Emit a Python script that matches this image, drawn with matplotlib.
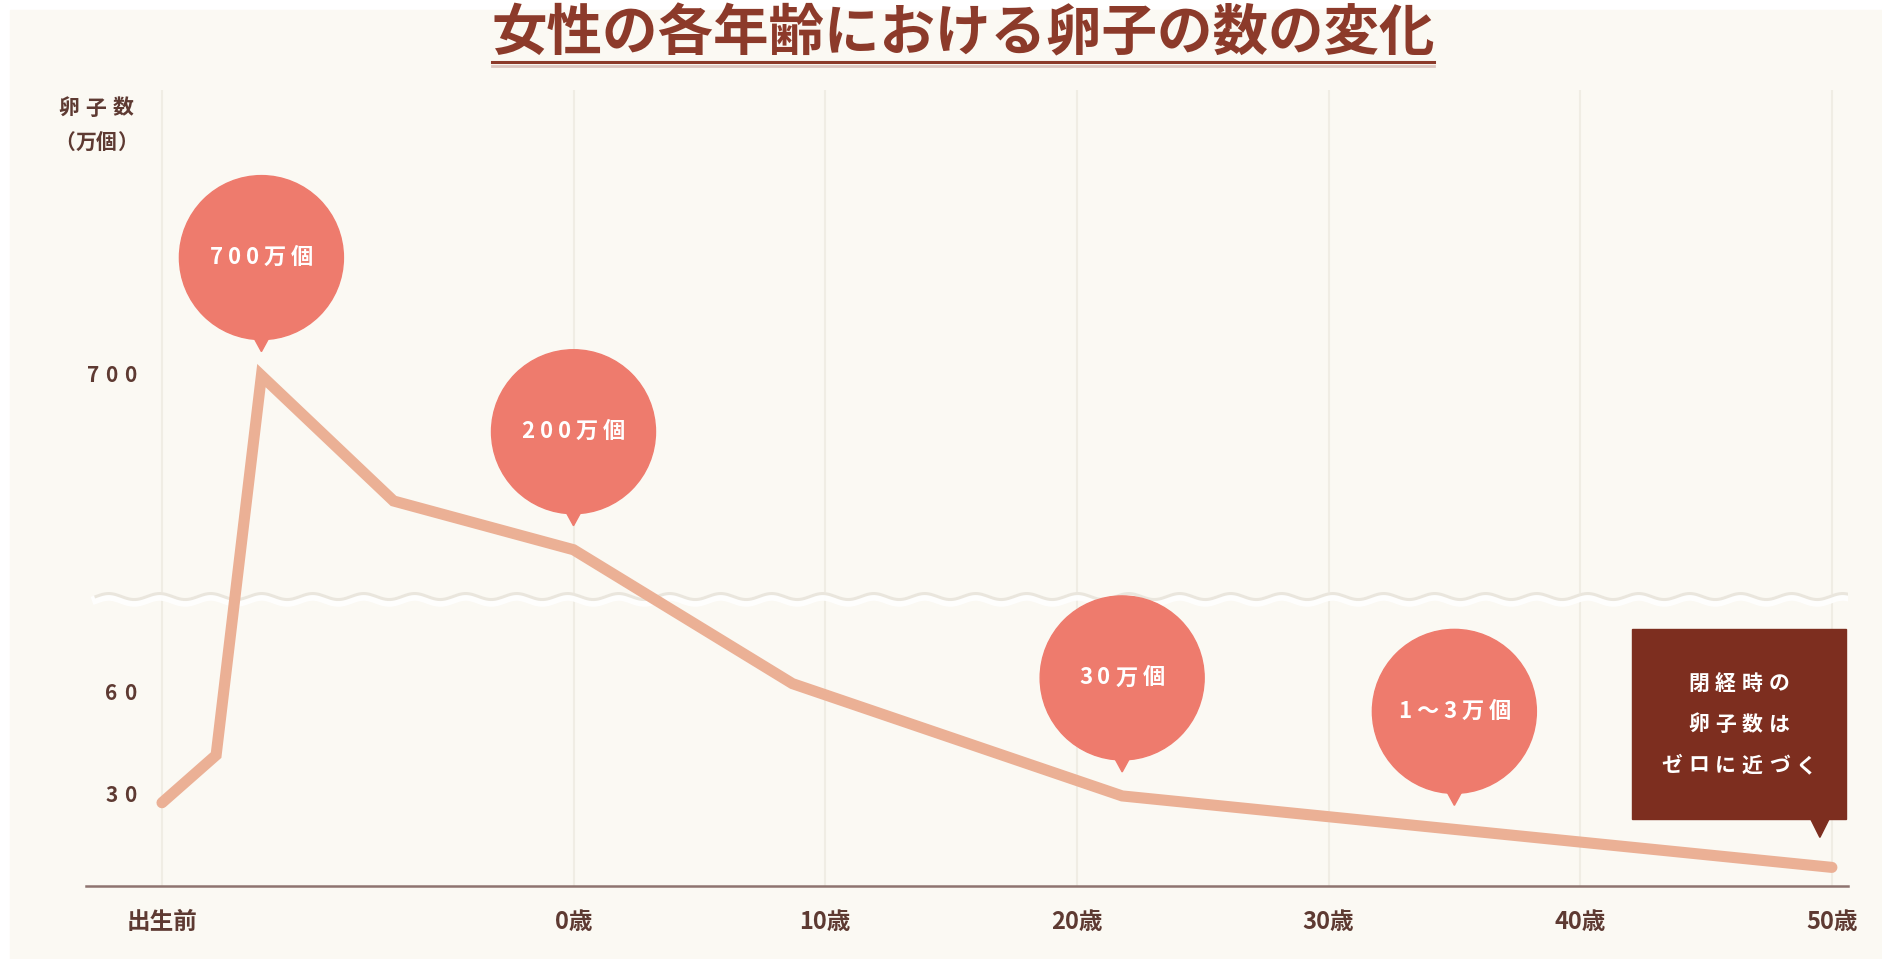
import numpy as np
import matplotlib
matplotlib.use("Agg")
import matplotlib.pyplot as plt
from matplotlib.lines import Line2D
from matplotlib.patches import Circle, Polygon, Rectangle
from matplotlib.ticker import NullLocator
from matplotlib.transforms import IdentityTransform, blended_transform_factory

plt.rcParams['font.family'] = ['Noto Sans CJK JP', 'DejaVu Sans']

# ---- data -------------------------------------------------------------
# x position in years (the prenatal period sits left of 0歳)
ages = [-16.35, -14.2, -12.4, -7.15, 0, 8.7, 21.8, 50]
# number of oocytes (万個)
eggs = [28, 42, 700, 340, 200, 63, 30, 9]

tick_pos = [-16.35, 0, 10, 20, 30, 40, 50]
tick_labels = ['出生前', '0歳', '10歳', '20歳', '30歳', '40歳', '50歳']
ytick_vals = [30, 60, 700]
ytick_labels = ['30', '60', '700']

callout_x = [-12.4, 0, 21.8, 35]
callout_text = ['700万個', '200万個', '30万個', '1～3万個']
note_lines = ['閉経時の', '卵子数は', 'ゼロに近づく']

title = '女性の各年齢における卵子の数の変化'

# ---- colours ----------------------------------------------------------
BG = '#FBF9F3'
GRID = '#F0EDE4'
LINE = '#EBB095'
BALLOON = '#EE7B6D'
NOTE = '#7D2E1F'
TXT = '#5E3A32'
TITLE_C = '#8C3A2A'

# ---- broken y-axis scale ---------------------------------------------
LOW_K = 85 / 30      # lower band (0 .. BREAK_V)
HIGH_K = 0.29        # upper band
BREAK_V = 88.6


def fwd(v):
    v = np.asarray(v, dtype=float)
    return np.where(v <= BREAK_V, v * LOW_K, 290 + (v - 200) * HIGH_K)


def inv(u):
    u = np.asarray(u, dtype=float)
    lo = u / LOW_K
    hi = np.maximum(200 + (u - 290) / HIGH_K, BREAK_V)
    return np.where(u <= BREAK_V * LOW_K, lo, hi)


W, H = 1882, 959
fig = plt.figure(figsize=(W / 100, H / 100), dpi=100, facecolor='white')
renderer = fig.canvas.get_renderer()
fig.add_artist(Rectangle((10 / W, 0), 1 - 10 / W, (H - 10) / H,
                         transform=fig.transFigure, color=BG, zorder=-10))

ax = fig.add_axes([86 / W, (H - 886) / H, (1848 - 86) / W, (886 - 90) / H])
ax.set_facecolor('none')
ax.set_yscale('function', functions=(fwd, inv))
ax.set_xlim(-19.37, 50.64)
ax.set_ylim(3.53, 1520)
ax.set_autoscale_on(False)


def tracked_text(x, y, s, track, ha='center', **kw):
    """Write s at pixel position (x, y) with extra spacing between glyphs."""
    parts = [ax.text(0, 0, ch, transform=IdentityTransform(), ha='left',
                     va='center', **kw) for ch in s]
    widths = [p.get_window_extent(renderer).width for p in parts]
    total = sum(widths) + track * (len(s) - 1)
    x0 = {'center': x - total / 2, 'right': x - total, 'left': x}[ha]
    for p, w in zip(parts, widths):
        p.set_position((x0, y))
        x0 += w + track
    return parts


for s in ['top', 'left', 'right']:
    ax.spines[s].set_visible(False)
ax.spines['bottom'].set_color('#8E7470')
ax.spines['bottom'].set_linewidth(1.8)

ax.set_xticks(tick_pos, tick_labels)
ax.tick_params(axis='x', length=0, pad=17, labelsize=17, labelcolor=TXT)
for lab in ax.get_xticklabels():
    lab.set_fontweight('bold')
ax.yaxis.set_major_locator(NullLocator())
ax.yaxis.set_minor_locator(NullLocator())

# vertical guides
for xp in tick_pos:
    ax.axvline(xp, color=GRID, lw=1.5, zorder=0)

# y tick labels sit inside the plotting area
for v, s in zip(ytick_vals, ytick_labels):
    _, yy = ax.transData.transform((0, v))
    tracked_text(136, yy, s, 6, ha='right', fontsize=15,
                 fontweight='bold', color=TXT, clip_on=False)

tracked_text(96, H - 108, '卵子数', 6, fontsize=15, fontweight='bold',
             color=TXT, clip_on=False)
tracked_text(96, H - 142, '（万個）', 0, fontsize=15, fontweight='bold',
             color=TXT, clip_on=False)

# wavy break marker
yb = ax.transData.transform((0, BREAK_V))[1]
wx = np.linspace(96, 1848, 800)
wy = yb + 3 * np.sin(2 * np.pi * (wx - 96) / 51)
ax.add_line(Line2D(wx, wy - 3, transform=IdentityTransform(),
                   color='white', lw=6, alpha=0.9, zorder=1))
ax.add_line(Line2D(wx, wy, transform=IdentityTransform(),
                   color='#EAE6DD', lw=2.2, zorder=1.1))

# main curve
ax.plot(ages, eggs, color=LINE, lw=8, solid_joinstyle='miter',
        solid_capstyle='round', zorder=3, clip_on=False)

# round callouts
R = 82
for cx, txt in zip(callout_x, callout_text):
    cy = float(np.interp(cx, ages, eggs))
    px, py = ax.transData.transform((cx, cy))
    c = (px, py + 118)
    ax.add_patch(Circle(c, R, transform=IdentityTransform(),
                        color=BALLOON, zorder=4, clip_on=False))
    ax.add_patch(Polygon([(px - 12, py + 46), (px + 12, py + 46), (px, py + 24)],
                         transform=IdentityTransform(), color=BALLOON,
                         zorder=4, clip_on=False))
    tracked_text(c[0], c[1], txt, 5, fontsize=16, fontweight='bold',
                 color='white', zorder=5, clip_on=False)

# closing note box at the final point
px, py = ax.transData.transform((ages[-1], eggs[-1]))
bx0, bx1 = px + 14 - 214, px + 14
by0, by1 = py + 48, py + 238
ax.add_patch(Rectangle((bx0, by0), bx1 - bx0, by1 - by0,
                       transform=IdentityTransform(), color=NOTE,
                       zorder=4, clip_on=False))
ax.add_patch(Polygon([(px - 22, by0 + 2), (px - 2, by0 + 2), (px - 12, py + 30)],
                     transform=IdentityTransform(), color=NOTE,
                     zorder=4, clip_on=False))
mid = (by0 + by1) / 2
for i, s in enumerate(note_lines):
    tracked_text((bx0 + bx1) / 2, mid + 41 - 41 * i, s, 6, fontsize=15,
                 fontweight='bold', color='white', zorder=5, clip_on=False)

# title with underline
fig.text(963 / W, 1 - 34 / H, title, ha='center', va='center',
         fontsize=40, fontweight='bold', color=TITLE_C)
fig.add_artist(Line2D([492, 1434], [H - 66, H - 66],
                      transform=IdentityTransform(), color='#DCC6C0', lw=2))
fig.add_artist(Line2D([492, 1434], [H - 62, H - 62],
                      transform=IdentityTransform(), color=TITLE_C, lw=2.2))

fig.savefig('out.png', dpi=100, facecolor='white')
